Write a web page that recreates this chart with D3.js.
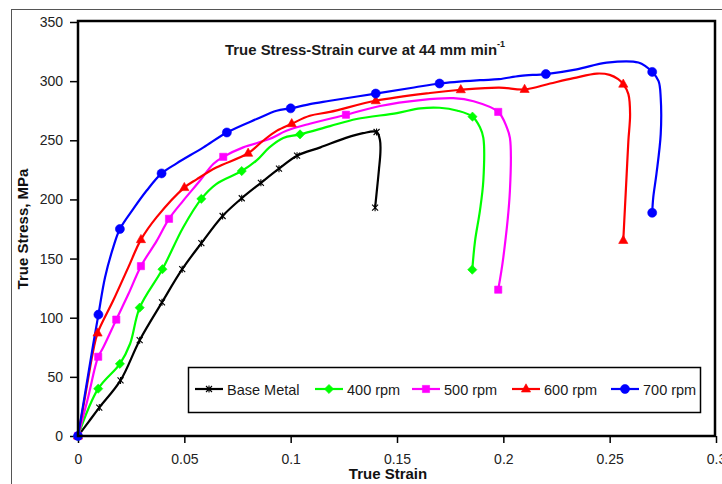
<!DOCTYPE html>
<html><head><meta charset="utf-8">
<script src="https://cdn.jsdelivr.net/npm/d3@7"></script>
<style>
html,body{margin:0;padding:0;background:#fff;}
svg{display:block;font-family:"Liberation Sans",Arial,sans-serif;}
</style></head>
<body><svg id="chart" width="722" height="484"></svg>
<script>
// ---------- DATA ----------
const xTickValues = [0, 0.05, 0.1, 0.15, 0.2, 0.25, 0.3];
const xTickLabels = ["0", "0.05", "0.1", "0.15", "0.2", "0.25", "0.3"];
const yTickValues = [0, 50, 100, 150, 200, 250, 300, 350];
const yTickLabels = ["0", "50", "100", "150", "200", "250", "300", "350"];
const seriesNames = ["Base Metal", "400 rpm", "500 rpm", "600 rpm", "700 rpm"];

// Base Metal
const baseStrain = [0, 0.005, 0.01, 0.02, 0.029, 0.0395, 0.049, 0.058, 0.068, 0.077, 0.086, 0.0945, 0.103, 0.114, 0.126, 0.134, 0.1404, 0.142, 0.1422, 0.1415, 0.1405, 0.1397];
const baseStress = [0, 12, 24, 47, 81, 113, 141, 163, 186, 201, 214, 226, 237, 244, 252, 256, 257, 250, 240, 225, 207, 193];
const baseMarkStrain = [0, 0.01, 0.02, 0.029, 0.0395, 0.049, 0.058, 0.068, 0.077, 0.086, 0.0945, 0.103, 0.1404, 0.1397];
const baseMarkStress = [0, 24, 47, 81, 113, 141, 163, 186, 201, 214, 226, 237, 257, 193];

// 400 rpm
const rpm400Strain = [0, 0.0095, 0.0197, 0.0245, 0.029, 0.0397, 0.0495, 0.058, 0.065, 0.077, 0.084, 0.090, 0.0965, 0.1044, 0.1185, 0.131, 0.150, 0.161, 0.170, 0.1785, 0.1855, 0.189, 0.1906, 0.1906, 0.189, 0.1867, 0.1854];
const rpm400Stress = [0, 40, 61, 78, 108.5, 141, 176.5, 200.5, 213, 224, 233, 244, 252, 255, 262, 268, 273, 277, 277.5, 275, 270, 261, 252, 216, 190.6, 165, 140.6];
const rpm400MarkStrain = [0, 0.0095, 0.0197, 0.029, 0.0397, 0.058, 0.077, 0.1044, 0.1855, 0.1854];
const rpm400MarkStress = [0, 40, 61, 108.5, 141, 200.5, 224, 255, 270, 140.6];

// 500 rpm
const rpm500Strain = [0, 0.0048, 0.008, 0.0095, 0.0119, 0.018, 0.0237, 0.0296, 0.037, 0.0428, 0.0495, 0.0574, 0.0636, 0.0683, 0.0777, 0.090, 0.098, 0.109, 0.126, 0.142, 0.161, 0.1765, 0.186, 0.1976, 0.2016, 0.2031, 0.2031, 0.200, 0.1976];
const rpm500Stress = [0, 33, 58, 67, 75, 98.4, 120, 143.6, 165, 183.6, 199, 216, 230, 236, 244, 251, 258, 264, 271.6, 279, 284, 285.6, 283, 274, 261, 252, 207.5, 151, 123.7];
const rpm500MarkStrain = [0, 0.0095, 0.018, 0.0296, 0.0428, 0.0683, 0.126, 0.1976, 0.1976];
const rpm500MarkStress = [0, 67, 98.4, 143.6, 183.6, 236, 271.6, 274, 123.7];

// 600 rpm
const rpm600Strain = [0, 0.0033, 0.0072, 0.0092, 0.0166, 0.0237, 0.0296, 0.037, 0.050, 0.0558, 0.065, 0.080, 0.087, 0.0934, 0.1005, 0.109, 0.1185, 0.140, 0.1655, 0.180, 0.198, 0.210, 0.222, 0.233, 0.244, 0.250, 0.254, 0.2564, 0.2588, 0.2596, 0.2588, 0.258, 0.2572, 0.2564];
const rpm600Stress = [0, 33, 72.5, 87, 114.7, 142.8, 166, 185, 210, 217, 227, 239, 249.6, 258, 264, 270.7, 274, 283.4, 290, 292.7, 294.6, 293, 298, 302.5, 306.4, 305.3, 301.7, 297.4, 289, 272, 249.6, 221.6, 193.4, 165.3];
const rpm600MarkStrain = [0, 0.0092, 0.0296, 0.050, 0.080, 0.1005, 0.140, 0.180, 0.210, 0.2564, 0.2564];
const rpm600MarkStress = [0, 87, 166, 210, 239, 264, 283.4, 292.7, 293, 297.4, 165.3];

// 700 rpm
const rpm700Strain = [0, 0.0041, 0.0072, 0.0096, 0.0127, 0.0166, 0.0197, 0.026, 0.0323, 0.0393, 0.0464, 0.059, 0.070, 0.084, 0.0934, 0.100, 0.109, 0.1185, 0.140, 0.158, 0.170, 0.189, 0.198, 0.208, 0.220, 0.2345, 0.2486, 0.2635, 0.270, 0.273, 0.274, 0.274, 0.272, 0.2705, 0.270];
const rpm700Stress = [0, 44.4, 78, 102.6, 134, 159.7, 175, 192, 207.5, 222, 230.5, 244, 256.6, 268, 275, 277, 280.6, 283.4, 289.5, 294.6, 298, 300.8, 301.7, 304.5, 306, 310, 315.7, 315.7, 307.8, 300, 286, 255, 221.6, 201.8, 188.7];
const rpm700MarkStrain = [0, 0.0096, 0.0197, 0.0393, 0.070, 0.100, 0.140, 0.170, 0.220, 0.270, 0.270];
const rpm700MarkStress = [0, 102.6, 175, 222, 256.6, 277, 289.5, 298, 306, 307.8, 188.7];

// ---------- STYLE / LAYOUT ----------
const styles = [
  {color: "#000000", marker: "star"},
  {color: "#00ff00", marker: "diamond"},
  {color: "#ff00ff", marker: "square"},
  {color: "#ff0000", marker: "triangle"},
  {color: "#0000ff", marker: "circle"}
];
const series = [
  {x: baseStrain, y: baseStress, mx: baseMarkStrain, my: baseMarkStress},
  {x: rpm400Strain, y: rpm400Stress, mx: rpm400MarkStrain, my: rpm400MarkStress},
  {x: rpm500Strain, y: rpm500Stress, mx: rpm500MarkStrain, my: rpm500MarkStress},
  {x: rpm600Strain, y: rpm600Stress, mx: rpm600MarkStrain, my: rpm600MarkStress},
  {x: rpm700Strain, y: rpm700Stress, mx: rpm700MarkStrain, my: rpm700MarkStress}
].map((s, i) => ({
  name: seriesNames[i], ...styles[i],
  line: s.x.map((v, j) => [v, s.y[j]]),
  marks: s.mx.map((v, j) => [v, s.my[j]])
}));

const svg = d3.select("#chart");
const plot = {left: 78, right: 715, top: 21, bottom: 436};
const x = d3.scaleLinear().domain([0, 0.3]).range([78, 716]);
const y = d3.scaleLinear().domain([0, 350]).range([436, 22]);

svg.append("rect").attr("width", 722).attr("height", 484).attr("fill", "#fff");
// outer chart border
svg.append("rect").attr("x", 11.5).attr("y", 9.5).attr("width", 800).attr("height", 600)
  .attr("fill", "none").attr("stroke", "#555").attr("stroke-width", 1);

function markerPath(type) {
  switch (type) {
    case "circle": return d3.symbol(d3.symbolCircle, 64)();
    case "square": return "M-3.6,-3.6H3.6V3.6H-3.6Z";
    case "diamond": return "M0,-4.6L4.6,0L0,4.6L-4.6,0Z";
    case "triangle": return "M0,-5.2L4.6,3L-4.6,3Z";
    case "star": return "M-3,-3L3,3M-3,3L3,-3M0,-3.5V3.5";
  }
}
function drawMarker(g, type, color) {
  const p = g.append("path").attr("d", markerPath(type));
  if (type === "star") p.attr("fill", "none").attr("stroke", color).attr("stroke-width", 1.1);
  else p.attr("fill", color).attr("stroke", color).attr("stroke-width", 0.6);
}

// axes
const yAxis = d3.axisLeft(y).tickValues(yTickValues).tickSize(8).tickPadding(7)
  .tickFormat((d, i) => yTickLabels[i]);
const xAxis = d3.axisBottom(x).tickValues(xTickValues).tickSize(7).tickPadding(11)
  .tickFormat((d, i) => xTickLabels[i]);
const gy = svg.append("g").attr("transform", `translate(${x(0)},0)`).call(yAxis);
const gx = svg.append("g").attr("transform", `translate(0,${y(0)})`).call(xAxis);
[gx, gy].forEach(g => {
  g.select(".domain").remove();
  g.selectAll(".tick line").attr("stroke", "#000").attr("stroke-width", 1.5);
  g.selectAll(".tick text").attr("fill", "#222").style("font-size", "14px")
    .style("font-family", "'Liberation Sans', Arial, sans-serif");
});

// lines
const lineGen = d3.line().x(d => x(d[0])).y(d => y(d[1])).curve(d3.curveCatmullRom.alpha(0.5));
const gl = svg.append("g");
series.forEach(s => {
  gl.append("path").attr("d", lineGen(s.line)).attr("fill", "none")
    .attr("stroke", s.color).attr("stroke-width", 2.2).attr("stroke-linejoin", "round");
});
series.forEach(s => {
  s.marks.forEach(m => {
    const g = gl.append("g").attr("transform", `translate(${x(m[0])},${y(m[1])})`);
    drawMarker(g, s.marker, s.color);
  });
});

// plot frame
svg.append("rect").attr("x", plot.left).attr("y", plot.top)
  .attr("width", plot.right - plot.left).attr("height", plot.bottom - plot.top)
  .attr("fill", "none").attr("stroke", "#000").attr("stroke-width", 2.5);

// title
const title = svg.append("text").attr("x", 225).attr("y", 55)
  .style("font-size", "14.5px").style("font-weight", "bold").attr("fill", "#1a1a1a");
title.append("tspan").text("True Stress-Strain curve at 44 mm min")
  .attr("textLength", 272).attr("lengthAdjust", "spacingAndGlyphs");
title.append("tspan").text("-1").attr("dy", -8).style("font-size", "9px");

// axis titles
svg.append("text").attr("transform", "translate(28,229) rotate(-90)")
  .attr("text-anchor", "middle").style("font-size", "15px").style("font-weight", "bold")
  .attr("fill", "#111").text("True Stress, MPa");
svg.append("text").attr("x", 388).attr("y", 479)
  .attr("text-anchor", "middle").style("font-size", "15px").style("font-weight", "bold")
  .attr("fill", "#111").text("True Strain");

// legend
const legendStarts = [195, 315, 412, 512, 611];
const leg = svg.append("g");
leg.append("rect").attr("x", 188.5).attr("y", 367.5).attr("width", 512).attr("height", 45)
  .attr("fill", "#fff").attr("stroke", "#000").attr("stroke-width", 1.5);
series.forEach((s, i) => {
  const x0 = legendStarts[i];
  leg.append("line").attr("x1", x0).attr("x2", x0 + 28).attr("y1", 389).attr("y2", 389)
    .attr("stroke", s.color).attr("stroke-width", 2.2);
  const g = leg.append("g").attr("transform", `translate(${x0 + 14},389)`);
  drawMarker(g, s.marker, s.color);
  leg.append("text").attr("x", x0 + 32).attr("y", 395).style("font-size", "14.5px")
    .attr("fill", "#1a1a1a").text(s.name);
});
</script>
</body></html>
